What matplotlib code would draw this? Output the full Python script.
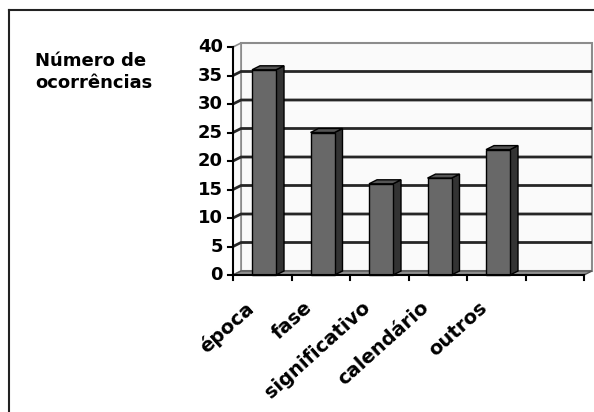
import matplotlib
matplotlib.use("Agg")
import matplotlib.pyplot as plt
from matplotlib.patches import Polygon, Rectangle

categories = ['época', 'fase', 'significativo', 'calendário', 'outros']
counts = [36, 25, 16, 17, 22]
yticks = [0, 5, 10, 15, 20, 25, 30, 35, 40]
ylabel = 'Número de\nocorrências'
n_slots = 6

W, H = 594, 412
fig = plt.figure(figsize=(W / 100, H / 100), dpi=100)

# axes fill the whole figure; one x unit = one category slot, one y unit = one count
px_x, px_y = 58.5, 5.7          # pixels per slot / per count
x0_px, y0_px = 233, 275         # where (0, 0) sits in the figure
ax = fig.add_axes([0, 0, 1, 1])
ax.set_xlim(-x0_px / px_x, (W - x0_px) / px_x)
ax.set_ylim(-(H - y0_px) / px_y, y0_px / px_y)
ax.axis('off')

dx, dy = 8 / px_x, 4 / px_y     # depth offset of the 3d look
ymax = yticks[-1]
xmax = n_slots

# back wall
ax.add_patch(Rectangle((dx, dy), xmax, ymax, facecolor='#fafafa',
                       edgecolor='#8c8c8c', lw=1.5, zorder=1))
# side wall
ax.add_patch(Polygon([(0, 0), (dx, dy), (dx, ymax + dy), (0, ymax)],
                     closed=True, facecolor='#fafafa', edgecolor='#8c8c8c',
                     lw=1.2, zorder=1))
# floor
ax.add_patch(Polygon([(0, 0), (xmax, 0), (xmax + dx, dy), (dx, dy)],
                     closed=True, facecolor='#8f8f8f', edgecolor='#555555',
                     lw=1, zorder=2))

# gridlines on side and back walls
for v in yticks[1:-1]:
    ax.plot([0, dx, xmax + dx], [v, v + dy, v + dy], color='#262626',
            lw=2, zorder=2, solid_capstyle='butt')

# bars
bw, boff = 24 / px_x, 19 / px_x
for i, val in enumerate(counts):
    x = i + boff
    ax.add_patch(Polygon([(x + bw, 0), (x + bw + dx, dy), (x + bw + dx, val + dy),
                          (x + bw, val)], closed=True, facecolor='#333333',
                         edgecolor='black', lw=1, zorder=4))
    ax.add_patch(Polygon([(x, val), (x + bw, val), (x + bw + dx, val + dy),
                          (x + dx, val + dy)], closed=True, facecolor='#555555',
                         edgecolor='black', lw=1, zorder=4))
    ax.add_patch(Rectangle((x, 0), bw, val, facecolor='#686868',
                           edgecolor='black', lw=1, zorder=5))

# axes lines and ticks
ax.plot([0, 0], [0, ymax], color='black', lw=1.5, zorder=6)
ax.plot([0, xmax], [0, 0], color='black', lw=1.5, zorder=6)
tk_x, tk_y = 5 / px_x, 5 / px_y
for v in yticks:
    ax.plot([-tk_x, 0], [v, v], color='black', lw=1.5, zorder=6)
    ax.text(-10 / px_x, v, str(v), ha='right', va='center', fontsize=13,
            fontweight='bold', family='DejaVu Sans')
for i in range(n_slots + 1):
    ax.plot([i, i], [0, -tk_y], color='black', lw=1.5, zorder=6)

# category labels, slanted
for i, name in enumerate(categories):
    ax.text(i + 0.5 - 18 / px_x, -23 / px_y, name, rotation=42,
            rotation_mode='anchor', ha='right', va='top', fontsize=14,
            fontweight='bold', family='DejaVu Sans')

fig.text(35 / W, 1 - 52 / H, ylabel, ha='left', va='top', fontsize=13,
         fontweight='bold', family='DejaVu Sans', linespacing=1.3)

# frame around the chart area
fig.add_artist(plt.Line2D([9 / W, 9 / W], [0, 1 - 10 / H], transform=fig.transFigure,
                          color='#222222', lw=1.5))
fig.add_artist(plt.Line2D([9 / W, 1], [1 - 10 / H, 1 - 10 / H], transform=fig.transFigure,
                          color='#222222', lw=1.5))

fig.savefig('out.png', dpi=100)
